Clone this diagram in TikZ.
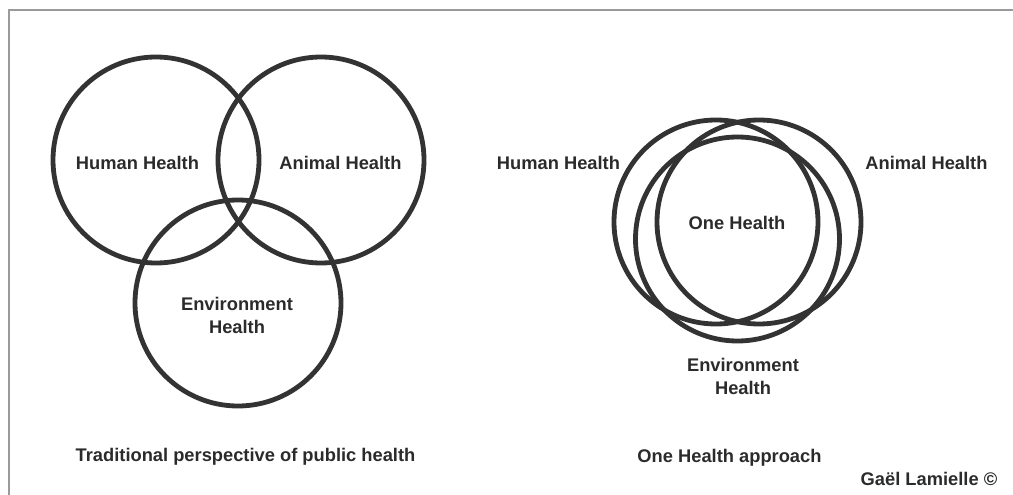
\documentclass[tikz,border=0pt]{standalone}
\usepackage{fontspec}
\setmainfont{Liberation Sans}
\begin{document}
\begin{tikzpicture}[x=1pt,y=-1pt,
  ring/.style={draw=ringgray, line width=4.8pt},
  lbl/.style={font=\fontsize{18.3}{23}\selectfont\bfseries, text=textgray, inner sep=0pt, anchor=base},
  lbl2/.style={font=\fontsize{18.3}{22.5}\selectfont\bfseries, text=textgray, inner sep=0pt, align=center, anchor=center}]
\definecolor{ringgray}{HTML}{333333}
\definecolor{textgray}{HTML}{2B2B2B}
\definecolor{framegray}{HTML}{9A9A9A}
\useasboundingbox (0,0) rectangle (1013,495);
% frame (top and left only)
\coordinate (fbl) at (9,495);
\coordinate (ftl) at (9,10);
\coordinate (ftr) at (1013,10);
\draw[framegray, line width=2pt] (fbl) -- (ftl) -- (ftr);
% left: traditional perspective
\node[ring, circle, minimum size=206pt, inner sep=0pt] (hL) at (156,160) {};
\node[ring, circle, minimum size=206pt, inner sep=0pt] (aL) at (321,160) {};
\node[ring, circle, minimum size=206pt, inner sep=0pt] (eL) at (238,303) {};
\node[lbl] (thL) at (137.5,169.5) {Human Health};
\node[lbl] (taL) at (340.5,169.5) {Animal Health};
\node[lbl2] (teL) at (237,315.5) {Environment\\Health};
\node[lbl] (capL) at (245.5,461.5) {Traditional perspective of public health};
% right: one health
\node[ring, circle, minimum size=204pt, inner sep=0pt] (hR) at (716,222) {};
\node[ring, circle, minimum size=204pt, inner sep=0pt] (aR) at (759,222) {};
\node[ring, circle, minimum size=204pt, inner sep=0pt] (eR) at (737.5,239) {};
\node[lbl] (thR) at (558.5,169.5) {Human Health};
\node[lbl] (taR) at (926.5,169.5) {Animal Health};
\node[lbl] (oneR) at (737,229.5) {One Health};
\node[lbl2] (teR) at (743,376.5) {Environment\\Health};
\node[lbl] (capR) at (729.5,462.5) {One Health approach};
\node[lbl] (author) at (929,485.5) {Gaël Lamielle ©};
\end{tikzpicture}
\end{document}
